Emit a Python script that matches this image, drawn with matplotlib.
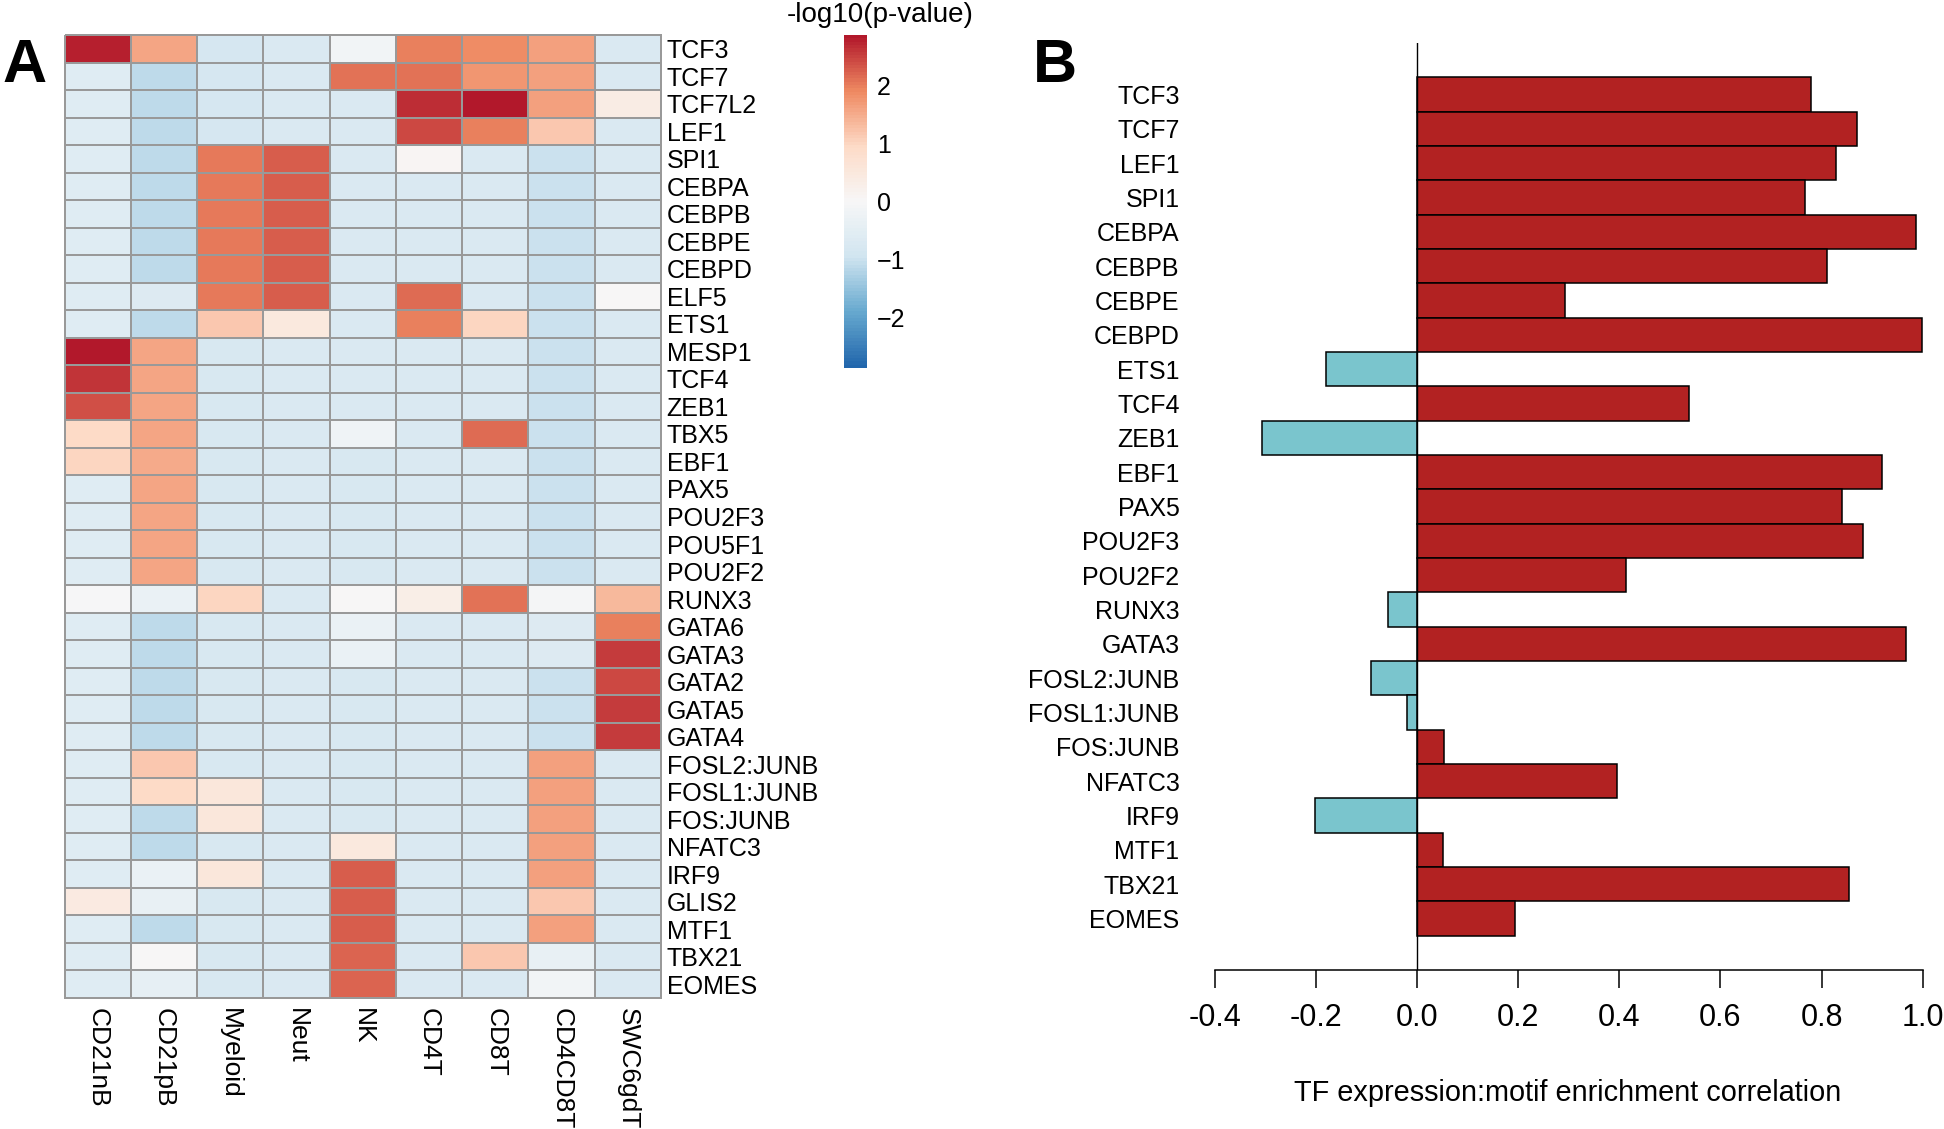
import numpy as np
import matplotlib
matplotlib.use("Agg")
import matplotlib.pyplot as plt
from matplotlib.colors import LinearSegmentedColormap

plt.rcParams['font.family'] = ['Liberation Sans', 'DejaVu Sans']

# heatmap: -log10(p-value) of motif enrichment per cell type
cell_types = ["CD21nB", "CD21pB", "Myeloid", "Neut", "NK", "CD4T", "CD8T", "CD4CD8T", "SWC6gdT"]
motifs = ["TCF3", "TCF7", "TCF7L2", "LEF1", "SPI1", "CEBPA", "CEBPB", "CEBPE", "CEBPD",
          "ELF5", "ETS1", "MESP1", "TCF4", "ZEB1", "TBX5", "EBF1", "PAX5", "POU2F3",
          "POU5F1", "POU2F2", "RUNX3", "GATA6", "GATA3", "GATA2", "GATA5", "GATA4",
          "FOSL2:JUNB", "FOSL1:JUNB", "FOS:JUNB", "NFATC3", "IRF9", "GLIS2", "MTF1",
          "TBX21", "EOMES"]
pval = [
    [2.75, 1.55, -0.85, -0.70, -0.15, 1.95, 1.85, 1.65, -0.70],
    [-0.60, -1.10, -0.85, -0.70, 2.10, 2.10, 1.75, 1.65, -0.70],
    [-0.60, -1.10, -0.85, -0.70, -0.70, 2.65, 2.85, 1.65, 0.40],
    [-0.60, -1.10, -0.85, -0.70, -0.70, 2.45, 1.95, 1.15, -0.70],
    [-0.60, -1.10, 2.05, 2.25, -0.70, 0.10, -0.70, -1.00, -0.70],
    [-0.60, -1.10, 2.05, 2.25, -0.70, -0.70, -0.70, -1.00, -0.70],
    [-0.60, -1.10, 2.05, 2.25, -0.70, -0.70, -0.70, -1.00, -0.70],
    [-0.60, -1.10, 2.05, 2.25, -0.70, -0.70, -0.70, -1.00, -0.70],
    [-0.60, -1.10, 2.05, 2.25, -0.70, -0.70, -0.70, -1.00, -0.70],
    [-0.60, -0.65, 2.05, 2.25, -0.70, 2.15, -0.70, -1.00, 0.00],
    [-0.60, -1.10, 1.15, 0.50, -0.70, 1.95, 1.00, -1.00, -0.70],
    [2.85, 1.55, -0.75, -0.70, -0.70, -0.70, -0.70, -1.00, -0.70],
    [2.60, 1.55, -0.75, -0.70, -0.70, -0.70, -0.70, -1.00, -0.70],
    [2.35, 1.55, -0.75, -0.70, -0.70, -0.70, -0.70, -1.00, -0.70],
    [0.95, 1.55, -0.80, -0.70, -0.20, -0.70, 2.15, -1.00, -0.70],
    [1.00, 1.50, -0.75, -0.70, -0.75, -0.70, -0.70, -1.00, -0.70],
    [-0.60, 1.55, -0.80, -0.70, -0.75, -0.70, -0.70, -1.00, -0.70],
    [-0.60, 1.55, -0.80, -0.70, -0.75, -0.70, -0.70, -1.00, -0.70],
    [-0.60, 1.55, -0.80, -0.70, -0.75, -0.70, -0.70, -1.00, -0.70],
    [-0.60, 1.55, -0.80, -0.70, -0.75, -0.70, -0.70, -1.00, -0.70],
    [-0.05, -0.30, 1.00, -0.70, 0.05, 0.30, 2.10, -0.10, 1.35],
    [-0.60, -1.10, -0.80, -0.70, -0.30, -0.70, -0.70, -0.65, 1.95],
    [-0.60, -1.10, -0.80, -0.70, -0.30, -0.70, -0.70, -0.65, 2.55],
    [-0.60, -1.10, -0.80, -0.70, -0.75, -0.70, -0.70, -1.00, 2.45],
    [-0.60, -1.10, -0.80, -0.70, -0.75, -0.70, -0.70, -1.00, 2.55],
    [-0.60, -1.10, -0.80, -0.70, -0.75, -0.70, -0.70, -1.00, 2.55],
    [-0.60, 1.20, -0.80, -0.70, -0.75, -0.70, -0.70, 1.65, -0.70],
    [-0.60, 0.95, 0.55, -0.70, -0.75, -0.70, -0.70, 1.65, -0.70],
    [-0.60, -1.10, 0.55, -0.70, -0.75, -0.70, -0.70, 1.65, -0.70],
    [-0.60, -1.10, -0.80, -0.70, 0.50, -0.70, -0.70, 1.65, -0.70],
    [-0.60, -0.30, 0.55, -0.70, 2.25, -0.70, -0.70, 1.65, -0.70],
    [0.45, -0.40, -0.80, -0.70, 2.25, -0.70, -0.70, 1.15, -0.70],
    [-0.60, -1.10, -0.80, -0.70, 2.25, -0.70, -0.70, 1.65, -0.70],
    [-0.60, 0.00, -0.80, -0.70, 2.20, -0.70, 1.15, -0.40, -0.70],
    [-0.60, -0.45, -0.80, -0.70, 2.20, -0.70, -0.70, -0.15, -0.70],
]

# bar chart: TF expression vs motif enrichment correlation
bar_tfs = ["TCF3", "TCF7", "LEF1", "SPI1", "CEBPA", "CEBPB", "CEBPE", "CEBPD", "ETS1",
           "TCF4", "ZEB1", "EBF1", "PAX5", "POU2F3", "POU2F2", "RUNX3", "GATA3",
           "FOSL2:JUNB", "FOSL1:JUNB", "FOS:JUNB", "NFATC3", "IRF9", "MTF1", "TBX21", "EOMES"]
bar_corr = [0.779, 0.871, 0.829, 0.768, 0.987, 0.811, 0.292, 0.999, -0.179,
            0.537, -0.307, 0.920, 0.840, 0.882, 0.413, -0.058, 0.968,
            -0.090, -0.019, 0.054, 0.395, -0.202, 0.052, 0.854, 0.193]

W, H = 1944, 1129
fig = plt.figure(figsize=(W / 100, H / 100), dpi=100)

def box(x0, y0, x1, y1):
    # pixel box (top-left origin) -> figure fraction rect
    return [x0 / W, 1 - y1 / H, (x1 - x0) / W, (y1 - y0) / H]

cmap = LinearSegmentedColormap.from_list(
    "rdbu7", ["#2166AC", "#67A9CF", "#D1E5F0", "#F7F7F7", "#FDDBC7", "#EF8A62", "#B2182B"], N=100)
vlim = 2.86

# ---- panel A
ax = fig.add_axes(box(64.5, 35, 661, 998))
mesh = ax.pcolormesh(np.array(pval), cmap=cmap, vmin=-vlim, vmax=vlim,
                     edgecolors="#999999", linewidth=1.1)
mesh.set_clip_on(False)
ax.set_xlim(0, len(cell_types))
ax.set_ylim(len(motifs), 0)
for s in ax.spines.values():
    s.set_visible(False)
ax.set_xticks(np.arange(len(cell_types)) + 0.5)
ax.set_xticklabels(cell_types, rotation=-90, fontsize=19)
ax.set_yticks(np.arange(len(motifs)) + 0.5)
ax.set_yticklabels(motifs, fontsize=18)
ax.yaxis.tick_right()
ax.tick_params(axis="y", length=0, pad=4)
ax.tick_params(axis="x", length=0, pad=7)

cax = fig.add_axes(box(844, 35, 867, 368))
cb = fig.colorbar(mesh, cax=cax)
cb.set_ticks([-2, -1, 0, 1, 2])
cb.outline.set_visible(False)
cb.ax.tick_params(length=0, labelsize=18, pad=7)
fig.text(880 / W, 1 - 22 / H, "-log10(p-value)", fontsize=20, ha="center", va="baseline")

fig.text(2 / W, 1 - 82 / H, "A", fontsize=44, fontweight="bold", va="baseline")
fig.text(1033 / W, 1 - 82 / H, "B", fontsize=44, fontweight="bold", va="baseline")

# ---- panel B
bx = fig.add_axes(box(1204.6, 43, 1925.2, 970))
ypos = np.arange(len(bar_tfs))
colors = ["#B22222" if v > 0 else "#7AC5CD" for v in bar_corr]
bx.barh(ypos, bar_corr, height=1.0, color=colors, edgecolor="black", linewidth=1.1)
bx.axvline(0, color="black", linewidth=1.0)
bx.set_xlim(-0.42, 1.005)
bx.set_ylim(len(bar_tfs) + 0.5, -1.5)
for k in ["top", "right", "left"]:
    bx.spines[k].set_visible(False)
bx.spines["bottom"].set_bounds(-0.4, 1.0)
bx.spines["bottom"].set_linewidth(1.1)
bx.set_xticks(np.arange(-0.4, 1.01, 0.2))
bx.set_xticklabels(["%.1f" % t for t in np.arange(-0.4, 1.01, 0.2)])
bx.tick_params(axis="x", length=13, width=1.1, labelsize=22, pad=11)
bx.set_yticks(ypos)
bx.set_yticklabels(bar_tfs, fontsize=18)
bx.tick_params(axis="y", length=0, pad=18)
fig.text(1568 / W, 1 - 1101 / H, "TF expression:motif enrichment correlation",
         fontsize=20.8, ha="center", va="baseline")

fig.savefig("out.png", dpi=100)
